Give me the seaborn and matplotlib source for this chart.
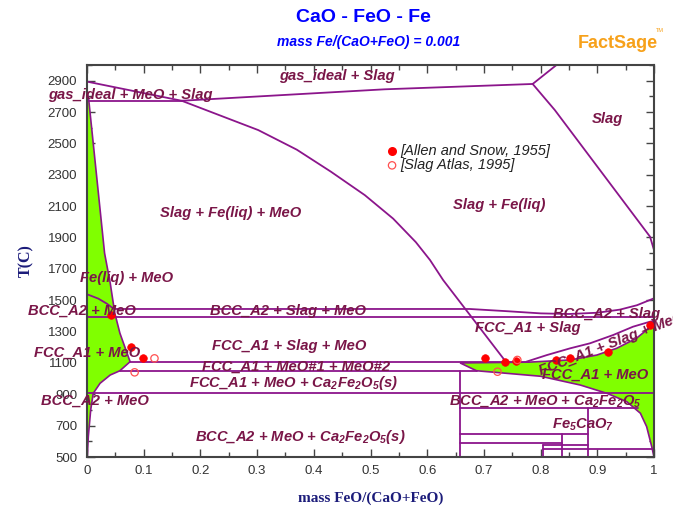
import numpy as np
import pandas as pd
import matplotlib
matplotlib.use("Agg")
import matplotlib.pyplot as plt
import seaborn as sns

# ---------------- data ----------------
# phase boundary polylines: x = mass FeO/(CaO+FeO), T in C
gas_meo_x = [0.0, 0.167, 0.302, 0.37, 0.43, 0.49, 0.54, 0.58, 0.605, 0.628, 0.739]
gas_meo_T = [2894, 2772, 2585, 2460, 2320, 2170, 2020, 1870, 1756, 1629, 1106]
triple_top_x = [0.0, 0.167]
triple_top_T = [2772, 2772]
gas_slag_x = [0.167, 0.525, 0.786, 0.828]
gas_slag_T = [2772, 2845, 2879, 3000]
slag_liq_x = [0.786, 0.825, 0.993, 1.0]
slag_liq_T = [2879, 2713, 1905, 1820]
delta_x = [0.0, 0.02, 0.035, 0.046]
delta_T = [1538, 1510, 1478, 1448]
bcc_slag_x = [0.049, 0.675, 0.74, 0.80, 0.85, 0.90, 0.94, 0.97, 1.0]
bcc_slag_T = [1444, 1444, 1430, 1416, 1412, 1420, 1440, 1468, 1512]
l1390_x = [0.0, 1.0]
l1390_T = [1390, 1390]
l1105_x = [0.076, 0.78]
l1105_T = [1105, 1105]
lens_up_x = [0.775, 0.811, 0.852, 0.887, 0.928, 0.963, 0.993, 1.0]
lens_up_T = [1108, 1150, 1193, 1225, 1278, 1331, 1363, 1368]
l1047_x = [0.058, 0.687]
l1047_T = [1047, 1047]
l910_x = [0.0, 1.0]
l910_T = [906, 906]
l815_x = [0.658, 0.972]
l815_T = [815, 815]
# Fe5CaO7 / lower boxes
v066_x = [0.658, 0.658]
v066_T = [1047, 500]
h645_x = [0.658, 0.884]
h645_T = [645, 645]
h592_x = [0.658, 0.837]
h592_T = [592, 592]
v0837_x = [0.837, 0.837]
v0837_T = [645, 500]
v0884_x = [0.884, 0.884]
v0884_T = [815, 500]
h575_x = [0.805, 0.884]
h575_T = [575, 575]
h549_x = [0.805, 1.0]
h549_T = [549, 549]
v0805_x = [0.805, 0.805]
v0805_T = [575, 500]

# green regions
green_left_x = [0.0, 0.003, 0.031, 0.041, 0.049, 0.058, 0.076, 0.058, 0.041,
                0.023, 0.011, 0.0065, 0.0023, 0.0005, 0.0]
green_left_T = [2830, 2780, 1800, 1608, 1418, 1290, 1108, 1050, 1023,
                970, 906, 800, 630, 500, 500]
green_right_x = [0.658, 0.78, 0.852, 0.899, 0.934, 0.969, 0.987, 0.996, 1.0,
                 1.0, 0.996, 0.987, 0.976, 0.952, 0.917, 0.87, 0.80, 0.72, 0.687]
green_right_T = [1100, 1105, 1119, 1150, 1193, 1257, 1310, 1353, 1370,
                 500, 566, 694, 779, 853, 906, 959, 1015, 1040, 1050]

# experimental points
allen_x = [0.042, 0.077, 0.098, 0.702, 0.738, 0.757, 0.828, 0.852, 0.919, 0.993]
allen_T = [1405, 1203, 1133, 1129, 1108, 1112, 1118, 1129, 1172, 1342]
atlas_x = [0.119, 0.084, 0.759, 0.724]
atlas_T = [1129, 1040, 1119, 1044]

# region labels
label_text = ["gas_ideal + Slag", "gas_ideal + MeO + Slag", "Slag",
              "Slag + Fe(liq) + MeO", "Slag + Fe(liq)", "Fe(liq) + MeO",
              "BCC_A2 + MeO", "BCC_A2 + Slag + MeO", "BCC_A2 + Slag",
              "FCC_A1 + Slag", "FCC_A1 + Slag + MeO", "FCC_A1 + MeO",
              "FCC_A1 + MeO#1 + MeO#2", "FCC_A1 + MeO",
              r"FCC_A1 + MeO + Ca$_2$Fe$_2$O$_5$(s)", "BCC_A2 + MeO",
              r"BCC_A2 + MeO + Ca$_2$Fe$_2$O$_5$", r"Fe$_5$CaO$_7$",
              r"BCC_A2 + MeO + Ca$_2$Fe$_2$O$_5$(s)", "FCC_A1 + Slag + MeO"]
label_x = [0.441, 0.076, 0.917, 0.254, 0.727, 0.0705, -0.009, 0.354, 0.917,
           0.778, 0.356, 0.0, 0.369, 0.896, 0.365, 0.014, 0.808, 0.875,
           0.376, 0.925]
label_T = [2930, 2809, 2656, 2056, 2107, 1641, 1431, 1431, 1412, 1323, 1208,
           1163, 1074, 1023, 972, 857, 857, 704, 627, 1222]
label_rot = [0] * 19 + [21]

xticks = [0, 0.1, 0.2, 0.3, 0.4, 0.5, 0.6, 0.7, 0.8, 0.9, 1]
xtick_labels = ["0", "0.1", "0.2", "0.3", "0.4", "0.5", "0.6", "0.7", "0.8", "0.9", "1"]
yticks = [500, 700, 900, 1100, 1300, 1500, 1700, 1900, 2100, 2300, 2500, 2700, 2900]

# ---------------- styling ----------------
sns.set_style("ticks")
plt.rcParams["font.family"] = ["Liberation Sans", "DejaVu Sans"]
plt.rcParams["mathtext.default"] = "regular"

LINE = "#8B158B"
GREEN = "#80FF00"
LAB = "#7A1648"
BLUE = "#0000FF"
NAVY = "#1C1C7A"

fig = plt.figure(figsize=(6.73, 5.07), dpi=100)
ax = fig.add_axes([87 / 673, 50 / 507, 567 / 673, 392 / 507])

ax.fill(green_left_x, green_left_T, color=GREEN, ec=LINE, lw=1.2, zorder=1)
ax.fill(green_right_x, green_right_T, color=GREEN, ec=LINE, lw=1.2, zorder=1)

lines = [
    (gas_meo_x, gas_meo_T), (triple_top_x, triple_top_T), (gas_slag_x, gas_slag_T),
    (slag_liq_x, slag_liq_T), (delta_x, delta_T), (bcc_slag_x, bcc_slag_T),
    (l1390_x, l1390_T), (l1105_x, l1105_T), (lens_up_x, lens_up_T),
    (l1047_x, l1047_T), (l910_x, l910_T), (l815_x, l815_T),
    (v066_x, v066_T), (h645_x, h645_T), (h592_x, h592_T), (v0837_x, v0837_T),
    (v0884_x, v0884_T), (h575_x, h575_T), (h549_x, h549_T), (v0805_x, v0805_T),
]
for lx, lt in lines:
    sns.lineplot(x=lx, y=lt, sort=False, estimator=None, color=LINE, lw=1.3,
                 ax=ax, zorder=2)

sns.scatterplot(x=allen_x, y=allen_T, color="red", s=30, edgecolor="red",
                linewidth=0.5, ax=ax, zorder=4)
sns.scatterplot(x=atlas_x, y=atlas_T, facecolor="none", edgecolor="#FF5050",
                s=28, linewidth=0.9, ax=ax, zorder=4)

for t, x, y, r in zip(label_text, label_x, label_T, label_rot):
    ax.text(x, y, t, color=LAB, fontsize=10.6, fontweight="bold", fontstyle="italic",
            ha="center", va="center", rotation=r, rotation_mode="anchor",
            zorder=5, clip_on=False)

# legend (as drawn in the reference)
ax.scatter([0.538], [2450], color="red", s=30, zorder=5)
ax.scatter([0.538], [2360], facecolor="none", edgecolor="#FF5050", s=28, lw=0.9, zorder=5)
ax.text(0.553, 2450, "[Allen and Snow, 1955]", fontsize=10.5, fontstyle="italic",
        color="#222222", va="center")
ax.text(0.553, 2360, "[Slag Atlas, 1995]", fontsize=10.5, fontstyle="italic",
        color="#222222", va="center")

ax.set_xlim(0, 1)
ax.set_ylim(500, 3000)
ax.set_xticks(xticks)
ax.set_xticklabels(xtick_labels)
ax.set_xticks(np.arange(0.05, 1, 0.1), minor=True)
ax.set_yticks(yticks)
ax.set_yticks(np.arange(600, 3001, 200), minor=True)
ax.tick_params(which="both", direction="in", top=True, right=True,
               labelsize=9.5, labelcolor="#333333", color="#444444")
ax.tick_params(which="major", length=6, width=1)
ax.tick_params(which="minor", length=3.5, width=1)
ax.tick_params(axis="y", which="major", pad=7)
ax.tick_params(axis="x", which="major", pad=6)
for s in ax.spines.values():
    s.set_color("#444444")
    s.set_linewidth(1.5)
    s.set_visible(True)

ax.set_xlabel("mass FeO/(CaO+FeO)", fontsize=11, fontweight="bold",
              family="Liberation Serif", color=NAVY, labelpad=10)
ax.set_ylabel("T(C)", fontsize=11.5, fontweight="bold", family="Liberation Serif",
              color=NAVY, labelpad=10)

fig.text(363 / 673, 1 - 17 / 507, "CaO - FeO - Fe", color=BLUE, fontsize=14,
         fontweight="bold", ha="center", va="center")
fig.text(369 / 673, 1 - 42 / 507, "mass Fe/(CaO+FeO) = 0.001", color=BLUE,
         fontsize=10, fontweight="bold", fontstyle="italic", ha="center", va="center")
fig.text(618 / 673, 1 - 43 / 507, "FactSage", color="#F7A11A", fontsize=13,
         fontweight="bold", ha="center", va="center")
fig.text(660 / 673, 1 - 30 / 507, "TM", color="#F7A11A", fontsize=4,
         ha="center", va="center")

fig.savefig("out.png", dpi=100)
